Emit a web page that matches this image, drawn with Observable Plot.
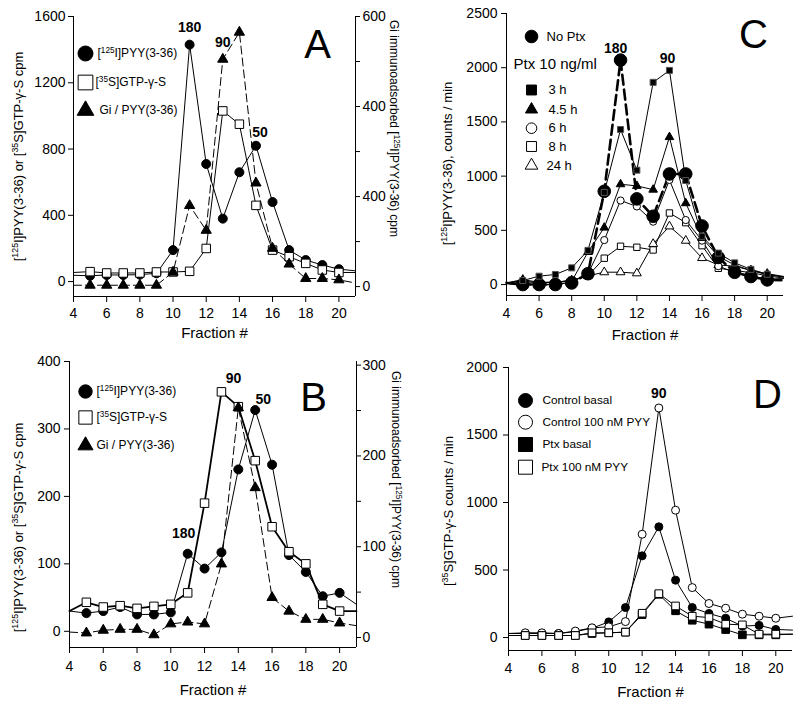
<!DOCTYPE html>
<html><head><meta charset="utf-8">
<script src="https://cdn.jsdelivr.net/npm/d3@7"></script>
<script src="https://cdn.jsdelivr.net/npm/@observablehq/plot@0.6"></script>
<style>
body{margin:0;background:#fff;}
#root{position:relative;width:800px;height:705px;overflow:hidden;background:#fff;}
.panel{position:absolute;}
.panel svg{position:absolute;left:0;top:0;max-width:none!important;}
</style></head><body><div id="root"></div>
<script>
// ---------- shared ----------
const fractions = [5,6,7,8,9,10,11,12,13,14,15,16,17,18,19,20];
const edgeFractions = [4, 21];
const xTickValues = [4,6,8,10,12,14,16,18,20];
const xLabel = "Fraction #";

// ---------- Panel A ----------
const aPyy = [35,40,40,42,50,190,1430,710,380,660,820,480,190,130,100,75];
const aPyyEdge = [38,65];
const aGtp = [60,52,52,52,58,58,62,200,1030,950,460,190,150,110,70,55];
const aGtpEdge = [55,55];
const aGi = [3,3,3,3,3,32,180,125,505,565,230,85,50,18,18,15];
const aGiEdge = [3,8];
const aLeftTicks = [0,400,800,1200,1600];
const aRightTicks = [0,100,200,300,400,500,600];
const aRightTickLabels = ["0","","400","","400","","600"];
const aLegend = ["[¹²⁵I]PYY(3-36)","[³⁵S]GTP-γ-S","Gi / PYY(3-36)"];
const aPeakLabels = ["180","90","50"];
const aLeftTitle = "[¹²⁵I]PYY(3-36) or [³⁵S]GTP-γ-S cpm";
const aRightTitle = "Gi immunoadsorbed [¹²⁵I]PYY(3-36) cpm";

// ---------- Panel B ----------
const bPyy = [27,30,36,25,25,28,115,93,117,240,328,247,113,88,52,57];
const bPyyEdge = [30,40];
const bGtp = [43,36,38,34,37,40,57,190,355,333,253,155,118,100,40,30];
const bGtpEdge = [30,30];
const bGi = [5,8,9,9,3,15,17,15,81,253,165,44,29,20,20,16];
const bGiEdge = [6,13];
const bLeftTicks = [0,100,200,300,400];
const bRightTicks = [0,50,100,150,200,250,300];
const bRightTickLabels = ["0","","100","","200","","300"];
const bPeakLabels = ["90","50","180"];

// ---------- Panel C ----------
const cNoPtx = [0,0,0,15,100,860,2070,790,630,1020,1020,540,250,113,74,43];
const cNoPtxEdge = [15,40];
const c3h = [37,77,93,154,315,850,1430,1055,1865,1975,960,445,290,200,140,95];
const c3hEdge = [15,70];
const c45h = [46,20,20,30,300,525,925,910,875,1360,750,430,260,180,130,90];
const c45hEdge = [15,70];
const c6h = [0,0,0,20,100,410,775,720,580,965,595,405,170,110,80,50];
const c6hEdge = [10,55];
const c8h = [10,20,20,40,80,243,353,344,319,660,571,359,150,130,110,80];
const c8hEdge = [10,60];
const c24h = [30,20,20,40,80,114,114,104,375,537,405,245,180,170,130,100];
const c24hEdge = [15,75];
const cTicks = [0,500,1000,1500,2000,2500];
const cLegendTop = "No Ptx";
const cLegendHeader = "Ptx 10 ng/ml";
const cLegend = ["3 h","4.5 h","6 h","8 h","24 h"];
const cPeakLabels = ["180","90"];
const cTitle = "[¹²⁵I]PYY(3-36), counts / min";

// ---------- Panel D ----------
const dCtrlBasal = [30,30,30,44,69,116,222,605,820,425,222,178,143,85,90,60];
const dCtrlBasalEdge = [30,55];
const dCtrlPyy = [35,35,30,48,72,79,118,765,1700,943,370,252,217,173,158,143];
const dCtrlPyyEdge = [30,158];
const dPtxBasal = [15,15,15,15,30,35,40,170,320,198,128,99,59,20,20,20];
const dPtxBasalEdge = [15,25];
const dPtxPyy = [15,15,15,15,35,35,40,180,325,234,158,148,99,94,25,25];
const dPtxPyyEdge = [15,25];
const dTicks = [0,500,1000,1500,2000];
const dLegend = ["Control basal","Control 100 nM PYY","Ptx basal","Ptx 100 nM PYY"];
const dPeakLabels = ["90"];
const dTitle = "[³⁵S]GTP-γ-S counts / min";

// ---------- helpers ----------
const FONT = '"Liberation Sans", Arial, Helvetica, sans-serif';
const baseStyle = {fontFamily: FONT, fontSize: "14px", background: "transparent", overflow: "visible", color: "#000"};
const pts = vals => fractions.map((f, i) => ({f, v: vals[i]}));
const linePts = (vals, edge) => [{f: edgeFractions[0], v: edge[0]}, ...pts(vals), {f: edgeFractions[1], v: edge[1]}];
const lineMark = (vals, edge, o = {}) => Plot.line(linePts(vals, edge), {x: "f", y: "v", stroke: "#000", strokeWidth: 1, ...o});
const dotMark = (vals, symbol, r, fill, o = {}) => Plot.dot(pts(vals), {x: "f", y: "v", symbol, r, fill, stroke: "#000", strokeWidth: 1, ...o});
const valAt = (vals, f) => vals[fractions.indexOf(f)];
const peak = (f, v, t, dx, dy) => Plot.text([{f, v, t}], {x: "f", y: "v", text: "t", dx, dy, fontWeight: "bold", fontSize: 14});
const legDot = (symbol, r, fill, dx, dy) => Plot.dot([null], {frameAnchor: "top-left", dx, dy, symbol, r, fill, stroke: "#000", strokeWidth: 1});
const legText = (t, dx, dy, fs = 13) => Plot.text([t], {frameAnchor: "top-left", dx, dy, textAnchor: "start", lineAnchor: "middle", fontSize: fs});
const title = (t, anchor, rotate, dx, dy, fs = 13) => Plot.text([t], {frameAnchor: anchor, rotate, dx, dy, textAnchor: "middle", lineAnchor: "middle", fontSize: fs});
const letter = (t, dx, dy) => Plot.text([t], {frameAnchor: "top-right", dx, dy, textAnchor: "middle", lineAnchor: "middle", fontSize: 40});
const xTitle = dy => Plot.text([xLabel], {frameAnchor: "bottom", dy, textAnchor: "middle", lineAnchor: "middle", fontSize: 15});
const axisLines = (yMin, right) => [Plot.ruleX([edgeFractions[0]], {stroke: "#000"}), Plot.ruleY([yMin], {stroke: "#000"}), ...(right ? [Plot.ruleX([edgeFractions[1]], {stroke: "#000"})] : [])];
const xAxis = pad => Plot.axisX({ticks: xTickValues, tickSize: 6, tickPadding: pad, label: null, fontSize: 14});
const yAxis = (ticks, pad) => Plot.axisY({ticks, tickSize: 5, tickPadding: pad, label: null, tickFormat: d => String(d), fontSize: 14});

const SUP = "⁰¹²³⁴⁵⁶⁷⁸⁹";
function supify(svg) {
  svg.querySelectorAll("text").forEach(t => {
    const s = t.textContent;
    if (![...s].some(c => SUP.includes(c))) return;
    while (t.firstChild) t.removeChild(t.firstChild);
    const re = /([⁰¹²³⁴⁵⁶⁷⁸⁹]+)|([^⁰¹²³⁴⁵⁶⁷⁸⁹]+)/g;
    let m;
    while ((m = re.exec(s))) {
      const ts = document.createElementNS("http://www.w3.org/2000/svg", "tspan");
      if (m[1]) {
        ts.textContent = [...m[1]].map(c => SUP.indexOf(c)).join("");
        ts.setAttribute("font-size", "0.68em");
        ts.setAttribute("baseline-shift", "super");
      } else ts.textContent = m[2];
      t.appendChild(ts);
    }
  });
}
function place(left, top, w, h, svgs) {
  const div = document.createElement("div");
  div.className = "panel";
  Object.assign(div.style, {left: left + "px", top: top + "px", width: w + "px", height: h + "px"});
  svgs.forEach(s => { supify(s); div.appendChild(s); });
  document.getElementById("root").appendChild(div);
}

// ---------- Panel A ----------
{
  const W = 400, H = 340, m = {marginLeft: 73, marginRight: 45, marginTop: 16, marginBottom: 44};
  const yDom = [-90, 1600];
  const main = Plot.plot({
    width: W, height: H, ...m, style: baseStyle,
    x: {domain: [4, 21]}, y: {domain: yDom},
    marks: [
      ...axisLines(yDom[0], true),
      xAxis(6), yAxis(aLeftTicks, 3),
      lineMark(aPyy, aPyyEdge),
      lineMark(aGtp, aGtpEdge),
      dotMark(aPyy, "circle", 4.5, "#000"),
      dotMark(aGtp, "square", 4.8, "#fff"),
      peak(11, valAt(aPyy, 11), aPeakLabels[0], 0, -17),
      peak(15, valAt(aPyy, 15), aPeakLabels[2], 4, -13),
      xTitle(37),
      title(aLeftTitle, "left", -90, -55, 0),
      letter("A", -38, 29),
      legDot("circle", 7.5, "#000", 12, 37), legText(aLegend[0], 24, 37, 12),
      legDot("square", 8.3, "#fff", 12, 66), legText(aLegend[1], 22, 66, 12),
      legDot("triangle", 6.2, "#000", 12, 94), legText(aLegend[2], 26, 94, 12)
    ]
  });
  const over = Plot.plot({
    width: W, height: H, ...m, style: baseStyle,
    x: {domain: [4, 21], axis: null}, y: {domain: [-22, 600]},
    marks: [
      Plot.axisY({anchor: "right", ticks: aRightTicks, tickSize: 4, tickPadding: 3, label: null,
        tickFormat: d => aRightTickLabels[aRightTicks.indexOf(d)], fontSize: 14}),
      lineMark(aGi, aGiEdge, {strokeDasharray: "8,4"}),
      dotMark(aGi, "triangle", 3.8, "#000"),
      peak(13, valAt(aGi, 13), aPeakLabels[1], 0, -17),
      title(aRightTitle, "right", 90, 38, -28, 12)
    ]
  });
  place(0, 0, W, H, [main, over]);
}

// ---------- Panel B ----------
{
  const W = 400, H = 365, m = {marginLeft: 69, marginRight: 44, marginTop: 21, marginBottom: 58};
  const yDom = [-24, 400];
  const main = Plot.plot({
    width: W, height: H, ...m, style: baseStyle,
    x: {domain: [4, 21]}, y: {domain: yDom},
    marks: [
      ...axisLines(yDom[0], true),
      xAxis(8), yAxis(bLeftTicks, 4),
      lineMark(bPyy, bPyyEdge),
      lineMark(bGtp, bGtpEdge, {strokeWidth: 1.8}),
      dotMark(bPyy, "circle", 4.5, "#000"),
      dotMark(bGtp, "square", 4.8, "#fff"),
      peak(13, valAt(bGtp, 13), bPeakLabels[0], 12, -13),
      peak(15, valAt(bPyy, 15), bPeakLabels[1], 8, -11),
      peak(11, valAt(bPyy, 11), bPeakLabels[2], -4, -20),
      xTitle(43),
      title(aLeftTitle, "left", -90, -51, 23),
      letter("B", -43, 37),
      legDot("circle", 6.7, "#000", 16, 30), legText(aLegend[0], 27, 30, 12),
      legDot("square", 7.5, "#fff", 16, 56), legText(aLegend[1], 27, 56, 12),
      legDot("triangle", 5.6, "#000", 16, 84), legText(aLegend[2], 27, 84, 12)
    ]
  });
  const over = Plot.plot({
    width: W, height: H, ...m, style: baseStyle,
    x: {domain: [4, 21], axis: null}, y: {domain: [-11, 304]},
    marks: [
      Plot.axisY({anchor: "right", ticks: bRightTicks, tickSize: 4, tickPadding: 2, label: null,
        tickFormat: d => bRightTickLabels[bRightTicks.indexOf(d)], fontSize: 14}),
      lineMark(bGi, bGiEdge, {strokeDasharray: "8,4"}),
      dotMark(bGi, "triangle", 3.8, "#000"),
      title(aRightTitle, "right", 90, 39, -25, 12)
    ]
  });
  place(0, 340, W, H, [main, over]);
}

// ---------- Panel C ----------
{
  const W = 400, H = 340, m = {marginLeft: 106, marginRight: 17, marginTop: 13, marginBottom: 45};
  const yDom = [-101, 2500];
  const main = Plot.plot({
    width: W, height: H, ...m, style: baseStyle,
    x: {domain: [4, 21]}, y: {domain: yDom},
    marks: [
      ...axisLines(yDom[0], false),
      xAxis(7), yAxis(cTicks, 4),
      lineMark(c24h, c24hEdge), lineMark(c8h, c8hEdge), lineMark(c6h, c6hEdge),
      lineMark(c45h, c45hEdge), lineMark(c3h, c3hEdge),
      lineMark(cNoPtx, cNoPtxEdge, {strokeWidth: 2.6, strokeDasharray: "10,5"}),
      dotMark(c24h, "triangle", 3.3, "#fff"),
      dotMark(c8h, "square", 3.6, "#fff"),
      dotMark(c6h, "circle", 3.6, "#fff"),
      dotMark(cNoPtx, "circle", 6.3, "#000"),
      dotMark(c45h, "triangle", 3.2, "#000"),
      dotMark(c3h, "square", 3.4, "#000", {stroke: "#555"}),
      peak(11, valAt(cNoPtx, 11), cPeakLabels[0], -5, -12),
      peak(14, valAt(c3h, 14), cPeakLabels[1], -2, -12),
      xTitle(40),
      title(cTitle, "left", -90, -59, 9),
      letter("C", -30, 22),
      legDot("circle", 6.3, "#000", 25, 23), legText(cLegendTop, 40, 23),
      legText(cLegendHeader, 7, 51, 15),
      legDot("square", 5.6, "#000", 25, 76.5), legText(cLegend[0], 42, 76.5),
      legDot("triangle", 4.5, "#000", 25, 96), legText(cLegend[1], 42, 96),
      legDot("circle", 5.3, "#fff", 25, 114.7), legText(cLegend[2], 42, 114.7),
      legDot("square", 5.6, "#fff", 25, 133), legText(cLegend[3], 42, 133),
      legDot("triangle", 4.7, "#fff", 25, 152), legText(cLegend[4], 40, 152)
    ]
  });
  place(400, 0, W, H, [main]);
}

// ---------- Panel D ----------
{
  const W = 400, H = 365, m = {marginLeft: 108, marginRight: 8, marginTop: 27, marginBottom: 55};
  const yDom = [-96, 2000];
  const main = Plot.plot({
    width: W, height: H, ...m, style: baseStyle,
    x: {domain: [4, 21]}, y: {domain: yDom},
    marks: [
      ...axisLines(yDom[0], false),
      xAxis(7), yAxis(dTicks, 6),
      lineMark(dCtrlPyy, dCtrlPyyEdge), lineMark(dCtrlBasal, dCtrlBasalEdge),
      lineMark(dPtxPyy, dPtxPyyEdge), lineMark(dPtxBasal, dPtxBasalEdge),
      dotMark(dCtrlBasal, "circle", 4, "#000"),
      dotMark(dCtrlPyy, "circle", 4, "#fff"),
      dotMark(dPtxBasal, "square", 4.3, "#000"),
      dotMark(dPtxPyy, "square", 4.3, "#fff"),
      peak(13, valAt(dCtrlPyy, 13), dPeakLabels[0], 0, -14),
      xTitle(42),
      title(dTitle, "left", -90, -60, 2),
      letter("D", -25, 28),
      legDot("circle", 7, "#000", 17, 33), legText(dLegend[0], 34, 33, 11.8),
      legDot("circle", 7, "#fff", 17, 54.7), legText(dLegend[1], 34, 54.7, 11.8),
      legDot("square", 7.9, "#000", 17, 77), legText(dLegend[2], 34, 77, 11.8),
      legDot("square", 7.9, "#fff", 17, 99.7), legText(dLegend[3], 33, 99.7, 11.8)
    ]
  });
  place(400, 340, W, H, [main]);
}
</script></body></html>
